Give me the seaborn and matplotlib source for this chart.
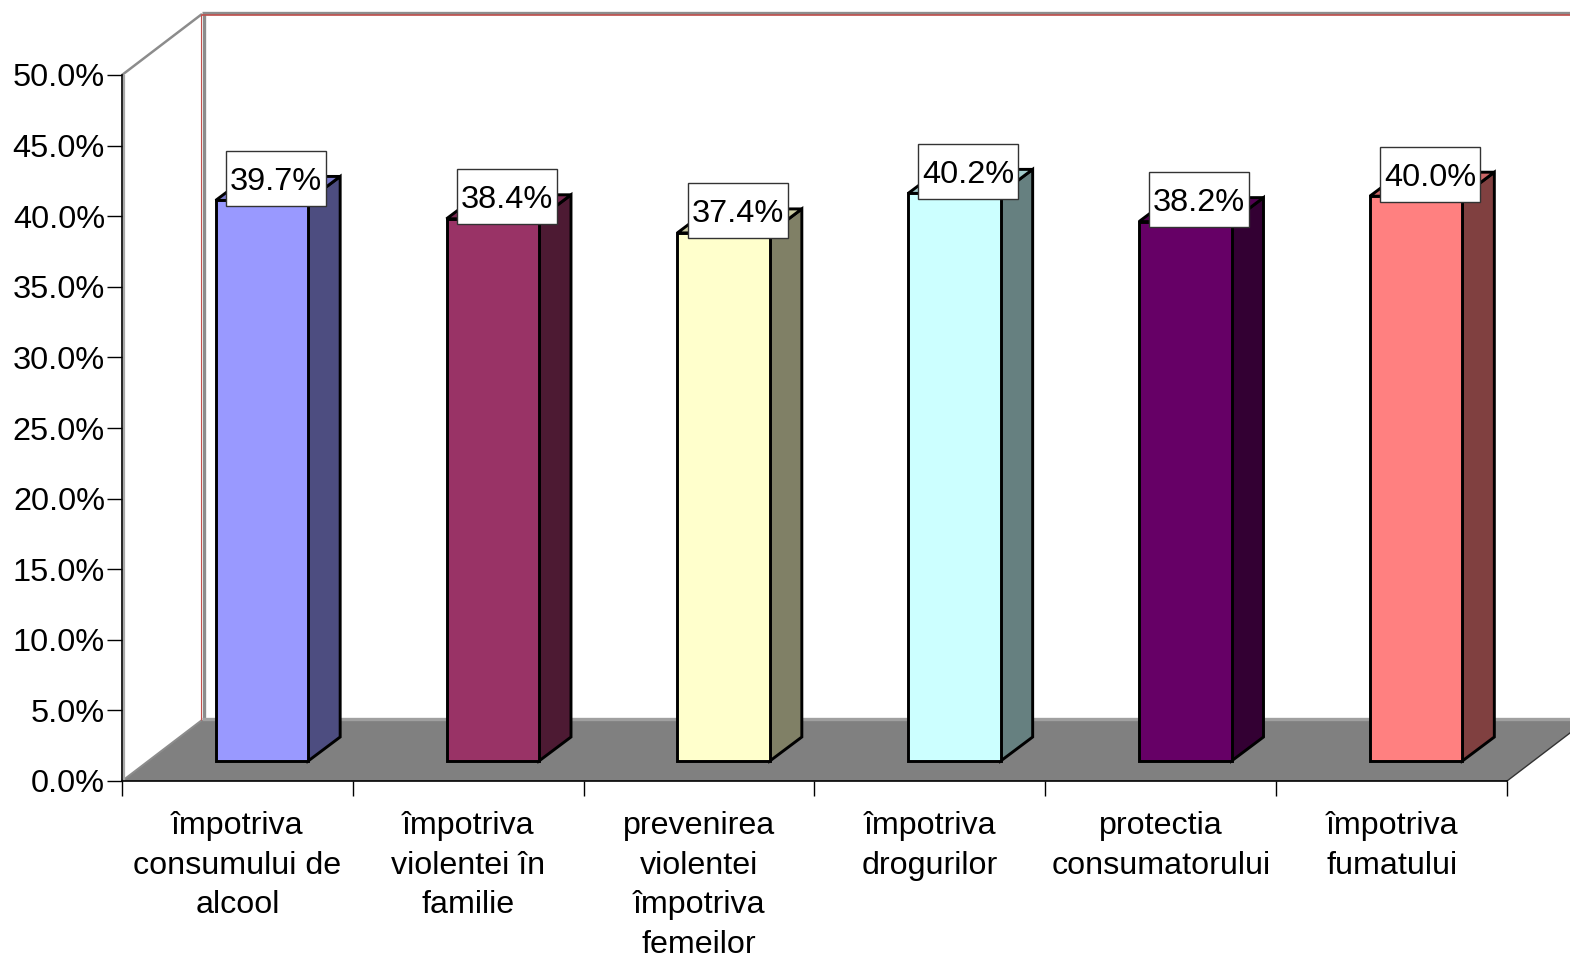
import matplotlib
matplotlib.use("Agg")
import matplotlib.pyplot as plt
from matplotlib.patches import Polygon, Rectangle
from matplotlib.colors import to_rgb
import seaborn as sns
import pandas as pd

categories = ["împotriva\nconsumului de\nalcool", "împotriva\nviolentei în\nfamilie",
              "prevenirea\nviolentei\nîmpotriva\nfemeilor", "împotriva\ndrogurilor",
              "protectia\nconsumatorului", "împotriva\nfumatului"]
values = [39.7, 38.4, 37.4, 40.2, 38.2, 40.0]
front_colors = ["#9999FF", "#993366", "#FFFFCC", "#CCFFFF", "#660066", "#FF8080"]
side_colors = ["#4D4D80", "#4D1A33", "#808066", "#668080", "#330033", "#804040"]
y_ticks = [0, 5, 10, 15, 20, 25, 30, 35, 40, 45, 50]

W, H = 1570, 957
L, R, T, B = 122, 1507, 75, 781
sns.set_theme(style="white")
plt.rcParams["font.family"] = ["Liberation Sans", "DejaVu Sans"]
fig = plt.figure(figsize=(W / 100, H / 100), dpi=100, facecolor="white")
ax = fig.add_axes([L / W, 1 - B / H, (R - L) / W, (B - T) / H])

px_x = 6 / (R - L)          # data units per pixel
px_y = 50 / (B - T)
wall_dx, wall_dy = 80 * px_x, 61 * px_y
bar_dx, bar_dy = 24.5 * px_x, 20 * px_y
side_dx, side_dy = 32 * px_x, 24 * px_y
bar_w = 92.5 * px_x

df = pd.DataFrame({"cat": categories, "val": values})
sns.barplot(data=df, x="cat", y="val", hue="cat", palette=front_colors, legend=False,
            width=bar_w, bottom=bar_dy, edgecolor="black", linewidth=2.1, ax=ax,
            clip_on=False, zorder=5, saturation=1)
ax.set_xlim(-0.5, 5.5)
ax.set_ylim(0, 50)
ax.set_xlabel("")
ax.set_ylabel("")

# walls and floor
x0, x1 = -0.5, 5.5
ax.add_patch(Polygon([(x0, 0), (x0 + wall_dx, wall_dy), (x1 + wall_dx, wall_dy), (x1, 0)],
                     closed=True, fc="#808080", ec="none", clip_on=False, zorder=1))
gray = dict(color="#8C8C8C", clip_on=False, zorder=2, solid_capstyle="butt")
red = dict(color="#C0504D", clip_on=False, zorder=3, solid_capstyle="butt")
ax.plot([x0 + wall_dx + 1.6 * px_x] * 2, [wall_dy, 50 + wall_dy], lw=2.4, **gray)
ax.plot([x0 + wall_dx - 0.6 * px_x] * 2, [wall_dy, 50 + wall_dy], lw=0.8, **red)
ax.plot([x0 + wall_dx, x1 + wall_dx], [50 + wall_dy + 1 * px_y] * 2, lw=2.4, **gray)
ax.plot([x0 + wall_dx, x1 + wall_dx], [50 + wall_dy - 1 * px_y] * 2, lw=1.2, **red)
ax.plot([x0 + wall_dx, x1 + wall_dx], [wall_dy + 1.5 * px_y] * 2, lw=2.4, color="#A0A0A0",
        clip_on=False, zorder=2, solid_capstyle="butt")
ax.plot([x0, x0 + wall_dx], [50, 50 + wall_dy], lw=1.8, **gray)
ax.plot([x0, x0 + wall_dx], [0, wall_dy], lw=1.4, **gray)
ax.plot([x1, x1 + wall_dx], [0, wall_dy], lw=1.0, color="#333333", clip_on=False, zorder=2)
ax.plot([x0 + 2.2 * px_x] * 2, [0, 50], lw=1.6, color="#A8A8A8", clip_on=False, zorder=2,
        solid_capstyle="butt")

# bars: shift into the chart depth, then add top and side faces
for p, val, fc, sc in zip(ax.patches, values, front_colors, side_colors):
    p.set_x(p.get_x() + bar_dx)
    left, right = p.get_x(), p.get_x() + p.get_width()
    top = bar_dy + val
    shade = tuple(c * 0.8 for c in to_rgb(fc))
    ax.add_patch(Polygon([(right, bar_dy), (right + side_dx, bar_dy + side_dy),
                          (right + side_dx, top + side_dy), (right, top)], closed=True,
                         fc=sc, ec="black", lw=2.1, joinstyle="miter", clip_on=False, zorder=4))
    ax.add_patch(Polygon([(left, top), (left + side_dx, top + side_dy),
                          (right + side_dx, top + side_dy), (right, top)], closed=True,
                         fc=shade, ec="black", lw=2.1, joinstyle="miter", clip_on=False, zorder=4))
    cx, cy = (left + right) / 2 + 14 * px_x, top + 22 * px_y
    ax.add_patch(Rectangle((cx - 50 * px_x, cy - 27.5 * px_y), 100 * px_x, 55 * px_y,
                           fc="white", ec="#333333", lw=1.0, clip_on=False, zorder=6))
    ax.text(cx, cy, f"{val:.1f}%", ha="center", va="center_baseline",
            fontsize=23.4, color="black", zorder=7, clip_on=False)

# axes
for s in ["top", "right"]:
    ax.spines[s].set_visible(False)
for s in ["left", "bottom"]:
    ax.spines[s].set_color("black")
    ax.spines[s].set_linewidth(1.2)
    ax.spines[s].set_zorder(3)
ax.set_yticks(y_ticks, [f"{v:.1f}%" for v in y_ticks])
ax.tick_params(axis="y", left=True, length=10.8, width=1.0, color="black", pad=1.5,
               labelsize=23.4, labelcolor="black")
ax.set_xticks([-0.5 + i for i in range(7)], [""] * 7)
ax.tick_params(axis="x", which="major", bottom=True, length=10.8, width=1.0, color="black")
ax.set_xticks(range(6), categories, minor=True, fontsize=23.2, color="black", linespacing=1.42)
ax.tick_params(axis="x", which="minor", bottom=False, length=0, pad=21.5)
fig.savefig("out.png", dpi=100, facecolor="white")
